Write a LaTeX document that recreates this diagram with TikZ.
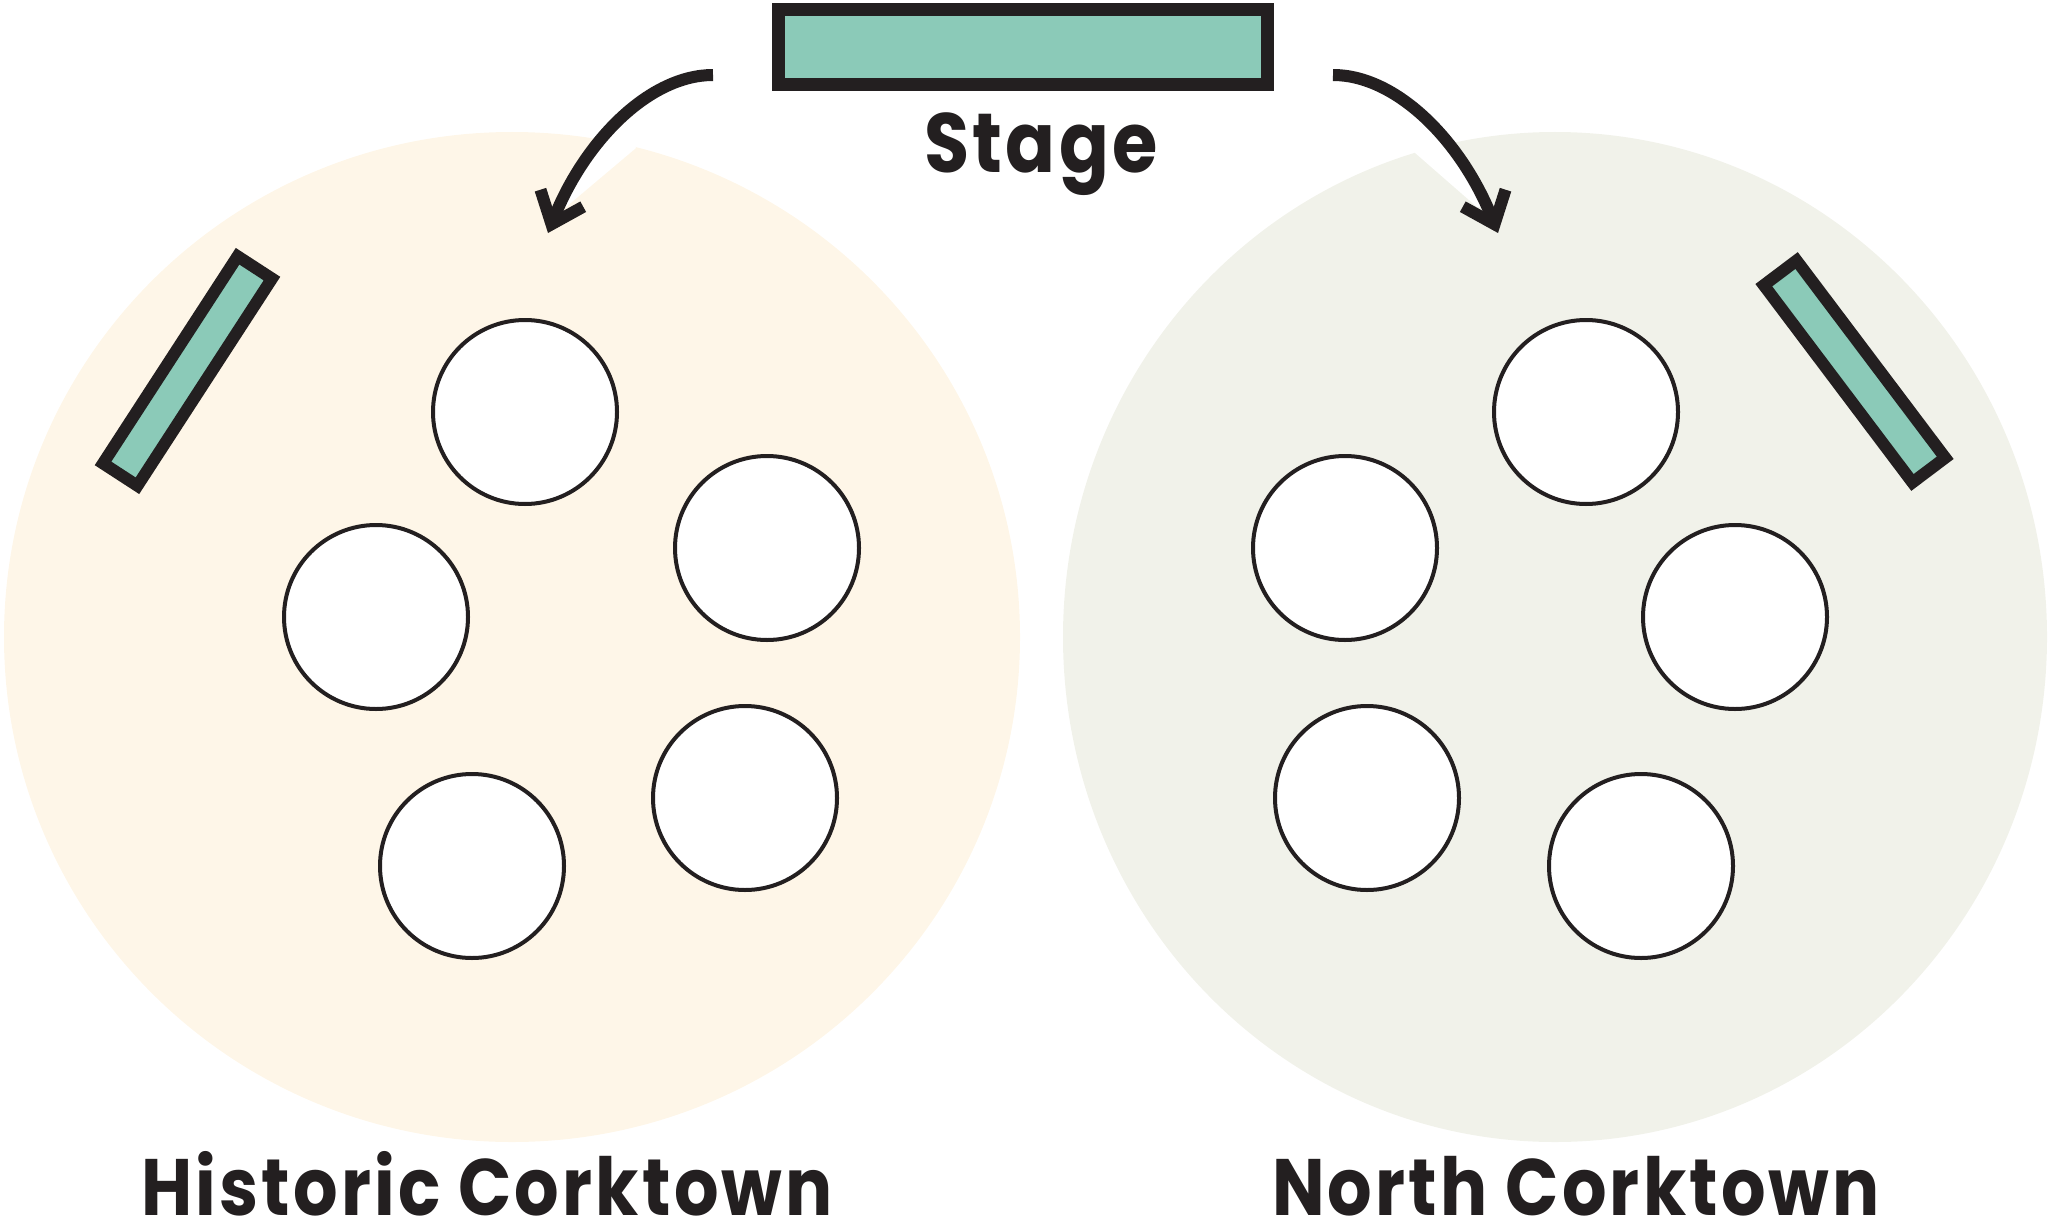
\documentclass[tikz,border=0pt]{standalone}
\usepackage{fontspec}
\usepackage{xcolor}
\usepackage{tikz}
\usetikzlibrary{arrows.meta}
\newfontfamily\zonefont{Poppins}[UprightFont=* Bold,FakeStretch=0.875,LetterSpace=4]
\definecolor{ink}{HTML}{231F20}
\definecolor{stagegreen}{HTML}{8BCAB8}
\definecolor{histfill}{HTML}{FEF6E8}
\definecolor{northfill}{HTML}{F1F2EA}

\begin{document}
\begin{tikzpicture}[x=1pt,y=-1pt,
  font=\zonefont\fontsize{80}{88}\selectfont,
  >={Straight Barb[sharp,length=28pt,width=46pt,line width=12pt]},
  stagebox/.style={draw=ink,line width=13pt,fill=stagegreen,inner sep=0pt,
    minimum width=489pt,minimum height=75pt},
  barbox/.style={draw=ink,line width=12pt,fill=stagegreen,inner sep=0pt,
    minimum width=247pt,minimum height=41pt},
  tbl/.style={circle,draw=ink,line width=4pt,fill=white,inner sep=0pt,minimum size=184pt},
  lbl/.style={anchor=base,inner sep=0pt,text=ink},
  flow/.style={->,draw=ink,line width=12pt}
]
\useasboundingbox (0,0) rectangle (2049,1225);

% zones
\fill[histfill] (512,637) ellipse [x radius=508,y radius=505];
\fill[northfill] (1555,637) ellipse [x radius=492,y radius=505];
\fill[white] (621,119) -- (636,148) -- (566,207) -- (556,207) -- (580,169) -- cycle;
\fill[white] (1425,119) -- (1414,152) -- (1477,207) -- (1490,207) -- (1466,169) -- cycle;

% bars
\node[barbox,rotate=57] (barL) at (187.5,371) {};
\node[barbox,rotate=-53] (barR) at (1854.5,371.5) {};

% tables
\node[tbl] (h1) at (525,412) {};
\node[tbl] (h2) at (767,548) {};
\node[tbl] (h3) at (376,617) {};
\node[tbl] (h4) at (745,798) {};
\node[tbl] (h5) at (472,866) {};
\node[tbl] (n1) at (1586,412) {};
\node[tbl] (n2) at (1345,548) {};
\node[tbl] (n3) at (1735,617) {};
\node[tbl] (n4) at (1367,798) {};
\node[tbl] (n5) at (1641,866) {};

% stage
\node[stagebox] (stage) at (1023,47) {};
\node[lbl,font=\zonefont\fontsize{84}{90}\selectfont] (stagelbl) at (1041,173) {Stage};
\coordinate (fromL) at (713,75);
\coordinate (toL) at (548,233);
\coordinate (fromR) at (1333,75);
\coordinate (toR) at (1498,233);
\draw[flow] (fromL) .. controls (650,75) and (585,140) .. (toL);
\draw[flow] (fromR) .. controls (1396,75) and (1461,140) .. (toR);

% labels
\node[lbl] (histlbl) at (487,1215) {Historic Corktown};
\node[lbl] (northlbl) at (1576,1215) {North Corktown};
\end{tikzpicture}
\end{document}
